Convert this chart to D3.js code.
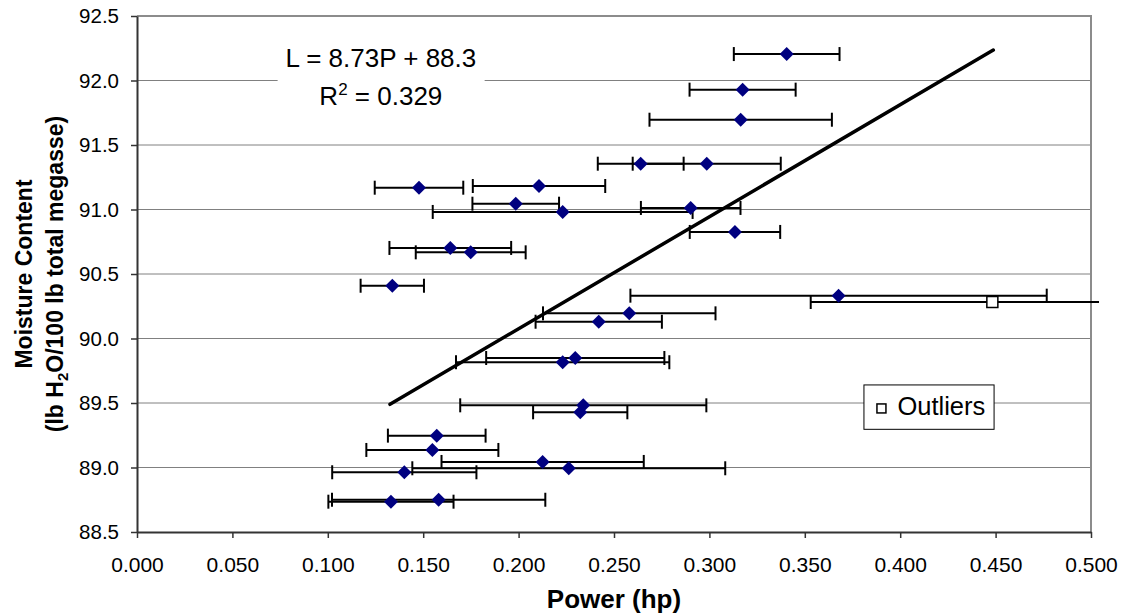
<!DOCTYPE html>
<html>
<head>
<meta charset="utf-8">
<script src="https://cdn.jsdelivr.net/npm/d3@7"></script>
<style>
  html, body { margin: 0; padding: 0; background: #fff; }
  svg { display: block; font-family: "Liberation Sans", Arial, sans-serif; }
</style>
</head>
<body>
<svg id="chart" width="1125" height="615"></svg>
<script>
// ---- data ----
const powerHp = [0.3405, 0.3174, 0.3164, 0.2640, 0.2986, 0.2107, 0.1478, 0.1985, 0.2231, 0.2902,
                 0.3134, 0.1642, 0.1749, 0.1338, 0.3677, 0.2580, 0.2420, 0.2297, 0.2231, 0.2339,
                 0.2323, 0.1571, 0.1548, 0.2126, 0.2263, 0.1401, 0.1331, 0.1581];
const moisture = [92.205, 91.929, 91.696, 91.355, 91.355, 91.182, 91.169, 91.045, 90.981, 91.012,
                  90.826, 90.702, 90.668, 90.409, 90.332, 90.195, 90.130, 89.849, 89.816, 89.482,
                  89.428, 89.247, 89.136, 89.043, 88.994, 88.963, 88.735, 88.750];
const powerErr = [0.0277, 0.0278, 0.0478, 0.0225, 0.0388, 0.0347, 0.0232, 0.0227, 0.0681, 0.0261,
                  0.0237, 0.0319, 0.0288, 0.0166, 0.1091, 0.0452, 0.0331, 0.0467, 0.0559, 0.0645,
                  0.0247, 0.0256, 0.0346, 0.0530, 0.0820, 0.0378, 0.0328, 0.0559];
const outlierPower = [0.4483];
const outlierMoisture = [90.283];
const outlierErr = [0.0952];
const trendPower = [0.1326, 0.4488];
const trendMoisture = [89.49, 92.236];
const xTickValues = [0, 0.05, 0.1, 0.15, 0.2, 0.25, 0.3, 0.35, 0.4, 0.45, 0.5];
const yTickValues = [88.5, 89.0, 89.5, 90.0, 90.5, 91.0, 91.5, 92.0, 92.5];
const equationLine1 = "L = 8.73P + 88.3";
const equationR2 = "0.329";
const legendLabel = "Outliers";
const xTitle = "Power (hp)";
const yTitle1 = "Moisture Content";

// ---- layout ----
const W = 1125, H = 615;
const margin = { left: 137, top: 16, right: 34, bottom: 83 };
const svg = d3.select("#chart");
const x = d3.scaleLinear().domain([0, 0.5]).range([margin.left, W - margin.right]);
const y = d3.scaleLinear().domain([88.5, 92.5]).range([H - margin.bottom, margin.top]);

const pts = powerHp.map((p, i) => ({ p, m: moisture[i], e: powerErr[i] }));
const outs = outlierPower.map((p, i) => ({ p, m: outlierMoisture[i], e: outlierErr[i] }));

// gridlines
svg.append("g").selectAll("line").data(yTickValues.slice(1, -1)).join("line")
  .attr("x1", x.range()[0]).attr("x2", x.range()[1])
  .attr("y1", d => y(d)).attr("y2", d => y(d))
  .attr("stroke", "#808080").attr("stroke-width", 1);

// plot border (top, right)
svg.append("path")
  .attr("d", `M${x.range()[0]},${y(92.5)}H${x.range()[1]}V${y(88.5)}`)
  .attr("fill", "none").attr("stroke", "#8c8c8c").attr("stroke-width", 2);

// equation box
const eqG = svg.append("g");
eqG.append("rect")
  .attr("x", x(0.0737)).attr("y", y(92.31)).attr("width", x(0.1822) - x(0.0737))
  .attr("height", y(91.72) - y(92.31)).attr("fill", "#fff");
eqG.append("text").attr("x", x(0.1278)).attr("y", y(92.107))
  .attr("text-anchor", "middle").attr("font-size", 26).attr("fill", "#000")
  .text(equationLine1);
const r2 = eqG.append("text").attr("x", x(0.1278)).attr("y", y(91.812))
  .attr("text-anchor", "middle").attr("font-size", 26).attr("fill", "#000");
r2.append("tspan").text("R");
r2.append("tspan").attr("font-size", 17).attr("dy", -10).text("2");
r2.append("tspan").attr("dy", 10).text(" = " + equationR2);

// error bars
const clipMax = x.range()[1] + 8;
const allBars = pts.concat(outs);
const eb = svg.append("g").attr("stroke", "#000").attr("stroke-width", 2);
allBars.forEach(d => {
  const x0 = x(d.p - d.e), x1raw = x(d.p + d.e);
  const x1 = Math.min(x1raw, clipMax);
  const yy = y(d.m);
  eb.append("line").attr("x1", x0).attr("x2", x1).attr("y1", yy).attr("y2", yy);
  eb.append("line").attr("x1", x0).attr("x2", x0).attr("y1", yy - 7).attr("y2", yy + 7);
  if (x1raw <= clipMax) {
    eb.append("line").attr("x1", x1).attr("x2", x1).attr("y1", yy - 7).attr("y2", yy + 7);
  }
});

// trend line
svg.append("path")
  .datum(trendPower.map((p, i) => [p, trendMoisture[i]]))
  .attr("d", d3.line().x(d => x(d[0])).y(d => y(d[1])))
  .attr("fill", "none").attr("stroke", "#000").attr("stroke-width", 3.5)
  .attr("stroke-linecap", "round");

// diamond markers
svg.append("g").selectAll("path").data(pts).join("path")
  .attr("d", d => { const cx = x(d.p), cy = y(d.m), r = 7;
    return `M${cx},${cy - r}L${cx + r},${cy}L${cx},${cy + r}L${cx - r},${cy}Z`; })
  .attr("fill", "#000080");

// outlier markers
svg.append("g").selectAll("rect").data(outs).join("rect")
  .attr("x", d => x(d.p) - 5.5).attr("y", d => y(d.m) - 5.5)
  .attr("width", 11).attr("height", 11)
  .attr("fill", "#fff").attr("stroke", "#000").attr("stroke-width", 1.5);

// axes
const xAxis = svg.append("g").attr("transform", `translate(0,${y(88.5)})`)
  .call(d3.axisBottom(x).tickValues(xTickValues).tickFormat(d3.format(".3f"))
    .tickSize(6).tickPadding(19).tickSizeOuter(0));
xAxis.selectAll("text").attr("font-size", 21).attr("fill", "#000")
  .attr("font-family", "Liberation Sans, Arial, sans-serif");
xAxis.select(".domain").attr("stroke", "#333").attr("stroke-width", 2);
xAxis.selectAll(".tick line").attr("stroke", "#333").attr("stroke-width", 1.5);

const yAxis = svg.append("g").attr("transform", `translate(${x(0)},0)`)
  .call(d3.axisLeft(y).tickValues(yTickValues).tickFormat(d3.format(".1f"))
    .tickSize(6).tickPadding(12).tickSizeOuter(0));
yAxis.selectAll("text").attr("font-size", 20.5).attr("fill", "#000")
  .attr("font-family", "Liberation Sans, Arial, sans-serif");
yAxis.select(".domain").attr("stroke", "#333").attr("stroke-width", 2);
yAxis.selectAll(".tick line").attr("stroke", "#333").attr("stroke-width", 1.5);

// axis titles
svg.append("text").attr("x", (x.range()[0] + x.range()[1]) / 2).attr("y", 608)
  .attr("text-anchor", "middle").attr("font-size", 26).attr("font-weight", "bold")
  .text(xTitle);

const yMid = (y.range()[0] + y.range()[1]) / 2;
const yt = svg.append("g").attr("transform", `translate(0,${yMid}) rotate(-90)`);
yt.append("text").attr("x", 0).attr("y", 32).attr("text-anchor", "middle")
  .attr("font-size", 23).attr("font-weight", "bold").text(yTitle1);
const yt2 = yt.append("text").attr("x", 0).attr("y", 63).attr("text-anchor", "middle")
  .attr("font-size", 23).attr("font-weight", "bold");
yt2.append("tspan").text("(lb H");
yt2.append("tspan").attr("font-size", 15).attr("dy", 5).text("2");
yt2.append("tspan").attr("dy", -5).text("O/100 lb total megasse)");

// legend
const lgX0 = x(0.381), lgX1 = x(0.4492), lgY0 = y(89.64), lgY1 = y(89.296);
const lg = svg.append("g");
lg.append("rect").attr("x", lgX0).attr("y", lgY0)
  .attr("width", lgX1 - lgX0).attr("height", lgY1 - lgY0)
  .attr("fill", "#fff").attr("stroke", "#000").attr("stroke-width", 1);
lg.append("rect").attr("x", lgX0 + 13).attr("y", lgY0 + 19)
  .attr("width", 9).attr("height", 9)
  .attr("fill", "#fff").attr("stroke", "#000").attr("stroke-width", 1.5);
lg.append("text").attr("x", lgX0 + 33.5).attr("y", lgY0 + 30)
  .attr("font-size", 25.5).attr("fill", "#000").text(legendLabel);
</script>
</body>
</html>
